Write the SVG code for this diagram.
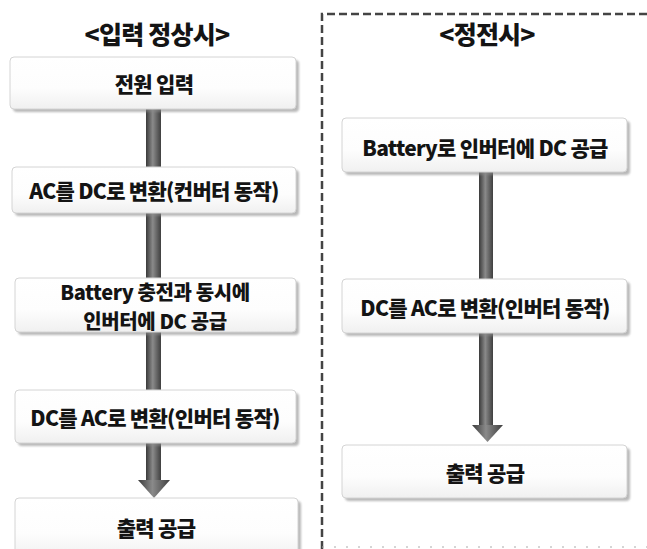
<svg xmlns="http://www.w3.org/2000/svg" width="647" height="549" viewBox="0 0 647 549">
<style>
.box{fill:url(#boxg);stroke:#d4d4d4;stroke-width:1}
.shadow{fill:#8a8a8a;opacity:0.6}
.t{font-family:"Noto Sans CJK KR","Noto Sans",sans-serif;font-weight:900;font-size:21px;fill:#141414;text-anchor:middle;dominant-baseline:central;letter-spacing:-0.7px}
.two{font-size:20px;letter-spacing:-0.4px}
.title{font-size:25px;letter-spacing:-0.8px}
.dash{fill:none;stroke:#444;stroke-width:2.5;stroke-dasharray:8 4}
</style>
<defs>
<linearGradient id="boxg" x1="0" y1="0" x2="0" y2="1">
<stop offset="0" stop-color="#ffffff"/>
<stop offset="0.6" stop-color="#fdfdfd"/>
<stop offset="1" stop-color="#f0f0f0"/>
</linearGradient>
<linearGradient id="shaft" x1="0" y1="0" x2="1" y2="0">
<stop offset="0" stop-color="#3a3a3a"/>
<stop offset="0.45" stop-color="#8a8a8a"/>
<stop offset="1" stop-color="#3f3f3f"/>
</linearGradient>
<filter id="blur" x="-5%" y="-20%" width="110%" height="140%"><feGaussianBlur stdDeviation="1.2"/></filter>
</defs>
<rect width="647" height="549" fill="#ffffff"/>
<g id="frame">
<path class="dash" d="M322,549 L322,14 L647,14"/>
<line x1="322" y1="547" x2="647" y2="547" stroke="#aaa" stroke-width="1" stroke-dasharray="2 10"/>
</g>
<g id="connectors">
<rect x="146" y="108" width="15" height="374" fill="url(#shaft)"/>
<polygon points="138,480 170,480 154,498" fill="url(#shaft)"/>
<rect x="479" y="170" width="14" height="257" fill="url(#shaft)"/>
<polygon points="472,425 503,425 487.5,442" fill="url(#shaft)"/>
</g>
<g id="title-left"><text class="t title" x="157" y="33">&lt;입력 정상시&gt;</text></g>
<g id="title-right"><text class="t title" x="487" y="33">&lt;정전시&gt;</text></g>
<g id="n1">
<rect class="shadow" x="13" y="60" width="286" height="52" rx="4" filter="url(#blur)"/>
<rect class="box" x="10" y="57" width="286" height="52" rx="4"/>
<text class="t" x="154" y="83">전원 입력</text>
</g>
<g id="n2">
<rect class="shadow" x="15" y="170" width="284" height="46" rx="4" filter="url(#blur)"/>
<rect class="box" x="12" y="167" width="284" height="46" rx="4"/>
<text class="t" x="154" y="190">AC를 DC로 변환(컨버터 동작)</text>
</g>
<g id="n3">
<rect class="shadow" x="18" y="281" width="281" height="54" rx="4" filter="url(#blur)"/>
<rect class="box" x="15" y="278" width="281" height="54" rx="4"/>
<text class="t two" x="155" y="291">Battery 충전과 동시에</text>
<text class="t two" x="155" y="320">인버터에 DC 공급</text>
</g>
<g id="n4">
<rect class="shadow" x="18" y="393" width="281" height="53" rx="4" filter="url(#blur)"/>
<rect class="box" x="15" y="390" width="281" height="53" rx="4"/>
<text class="t" x="155" y="417">DC를 AC로 변환(인버터 동작)</text>
</g>
<g id="n5">
<rect class="shadow" x="18" y="501" width="283" height="60" rx="4" filter="url(#blur)"/>
<rect class="box" x="15" y="498" width="283" height="60" rx="4"/>
<text class="t" x="156" y="527">출력 공급</text>
</g>
<g id="r1">
<rect class="shadow" x="345" y="121" width="285" height="54" rx="4" filter="url(#blur)"/>
<rect class="box" x="342" y="118" width="285" height="54" rx="4"/>
<text class="t" x="485" y="147">Battery로 인버터에 DC 공급</text>
</g>
<g id="r2">
<rect class="shadow" x="345" y="282" width="285" height="54" rx="4" filter="url(#blur)"/>
<rect class="box" x="342" y="279" width="285" height="54" rx="4"/>
<text class="t" x="485" y="307">DC를 AC로 변환(인버터 동작)</text>
</g>
<g id="r3">
<rect class="shadow" x="345" y="448" width="285" height="53" rx="4" filter="url(#blur)"/>
<rect class="box" x="342" y="445" width="285" height="53" rx="4"/>
<text class="t" x="485" y="472">출력 공급</text>
</g>
</svg>
